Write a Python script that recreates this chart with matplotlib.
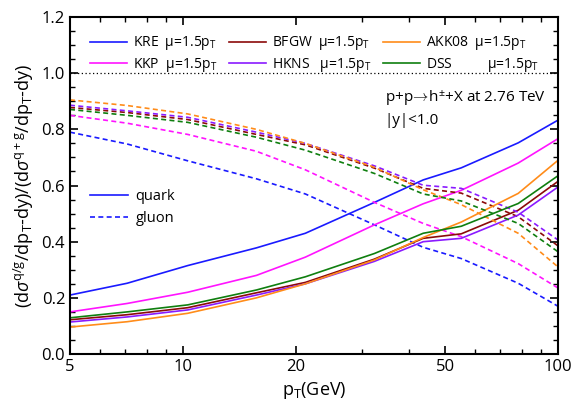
import matplotlib
matplotlib.use("Agg")
import matplotlib.pyplot as plt
from matplotlib.ticker import FixedLocator, NullFormatter, FixedFormatter

plt.rcParams['font.family'] = ['Open Sans', 'DejaVu Sans']
plt.rcParams['mathtext.fontset'] = 'custom'
plt.rcParams['mathtext.rm'] = 'Open Sans'
plt.rcParams['mathtext.it'] = 'Open Sans:italic'
plt.rcParams['mathtext.sf'] = 'Open Sans'

# pT grid (GeV)
pt = [5, 7.1, 10.3, 15.7, 21.2, 32.4, 43.7, 55.2, 78.3, 100]

# quark fractions
kre_q = [0.210, 0.252, 0.315, 0.378, 0.430, 0.540, 0.620, 0.663, 0.752, 0.833]
kkp_q = [0.150, 0.180, 0.220, 0.280, 0.345, 0.460, 0.535, 0.583, 0.680, 0.767]
akk_q = [0.096, 0.115, 0.145, 0.200, 0.250, 0.335, 0.415, 0.470, 0.572, 0.690]
bfgw_q = [0.122, 0.140, 0.165, 0.218, 0.255, 0.338, 0.412, 0.428, 0.512, 0.615]
hkns_q = [0.114, 0.132, 0.157, 0.210, 0.250, 0.330, 0.400, 0.412, 0.495, 0.595]
dss_q = [0.129, 0.150, 0.175, 0.228, 0.275, 0.358, 0.430, 0.455, 0.536, 0.635]

# gluon fractions
kre_g = [0.790, 0.748, 0.688, 0.624, 0.570, 0.460, 0.380, 0.340, 0.252, 0.170]
kkp_g = [0.850, 0.822, 0.782, 0.722, 0.656, 0.540, 0.465, 0.418, 0.322, 0.235]
akk_g = [0.905, 0.885, 0.855, 0.800, 0.750, 0.665, 0.585, 0.532, 0.430, 0.310]
bfgw_g = [0.878, 0.860, 0.835, 0.782, 0.745, 0.662, 0.590, 0.573, 0.489, 0.385]
hkns_g = [0.886, 0.866, 0.843, 0.790, 0.750, 0.670, 0.601, 0.590, 0.505, 0.406]
dss_g = [0.871, 0.850, 0.825, 0.772, 0.726, 0.643, 0.570, 0.545, 0.465, 0.364]

names = ['KRE', 'KKP', 'BFGW', 'HKNS', 'AKK08', 'DSS']
quark = [kre_q, kkp_q, bfgw_q, hkns_q, akk_q, dss_q]
gluon = [kre_g, kkp_g, bfgw_g, hkns_g, akk_g, dss_g]
colors = ['#1a1aff', '#ff14ff', '#8b0a0a', '#8a1aff', '#ff8c1a', '#0f7f0f']
tags = ['KRE  ', 'KKP  ', 'BFGW  ', 'HKNS   ', 'AKK08  ', 'DSS          ']

fig = plt.figure(figsize=(5.81, 4.16), dpi=100)
ax = fig.add_axes([0.1205, 0.149, 0.840, 0.810])

handles = []
for n, q, g, c, t in zip(names, quark, gluon, colors, tags):
    h, = ax.plot(pt, q, color=c, lw=1.2, label=t + 'μ=1.5p$_\\mathrm{T}$')
    ax.plot(pt, g, color=c, lw=1.2, ls=(0, (3, 2)))
    handles.append(h)

ax.axhline(1.0, color='black', lw=0.9, ls=(0, (1, 2)))

ax.set_xscale('log')
ax.set_xlim(5, 100)
ax.set_ylim(0, 1.2)
ax.xaxis.set_major_locator(FixedLocator([5, 10, 20, 50, 100]))
ax.xaxis.set_major_formatter(FixedFormatter(['5', '10', '20', '50', '100']))
ax.xaxis.set_minor_locator(FixedLocator([6, 7, 8, 9, 30, 40, 60, 70, 80, 90]))
ax.xaxis.set_minor_formatter(NullFormatter())
ax.set_yticks([0, 0.2, 0.4, 0.6, 0.8, 1.0, 1.2])
ax.set_yticklabels(['0.0', '0.2', '0.4', '0.6', '0.8', '1.0', '1.2'])
ax.yaxis.set_minor_locator(FixedLocator([i * 0.05 for i in range(25)]))
ax.tick_params(which='both', direction='in', top=True, right=True, labelsize=12)
ax.tick_params(which='major', length=6, width=1.2)
ax.tick_params(which='minor', length=3.5, width=1.0)
for s in ax.spines.values():
    s.set_linewidth(1.5)

ax.set_xlabel(r'p$_\mathrm{T}$(GeV)', fontsize=13)
ax.set_ylabel(r'(d$\sigma^\mathrm{q/g}$/dp$_\mathrm{T}$-dy)/(d$\sigma^\mathrm{q+g}$/dp$_\mathrm{T}$-dy)',
              fontsize=13)

leg = ax.legend(handles=handles, ncol=3, loc='upper left', bbox_to_anchor=(0.03, 0.965),
                frameon=False, fontsize=10, handlelength=2.65, columnspacing=0.85,
                handletextpad=0.42, labelspacing=0.25, borderaxespad=0.0)
ax.add_artist(leg)

qh, = ax.plot([], [], color=colors[0], lw=1.2)
gh, = ax.plot([], [], color=colors[0], lw=1.2, ls=(0, (3, 2)))
ax.legend([qh, gh], ['quark', 'gluon'], loc='center left', bbox_to_anchor=(0.03, 0.435),
          frameon=False, fontsize=10.5, handlelength=2.6, handletextpad=0.5,
          labelspacing=0.5, borderaxespad=0.0)

ax.text(0.645, 0.748, r'p+p$\!\rightarrow\!$h$^{\pm}$+X at 2.76 TeV', transform=ax.transAxes, fontsize=11)
ax.text(0.645, 0.682, '|y|<1.0', transform=ax.transAxes, fontsize=11)

fig.savefig('out.png', dpi=100)
